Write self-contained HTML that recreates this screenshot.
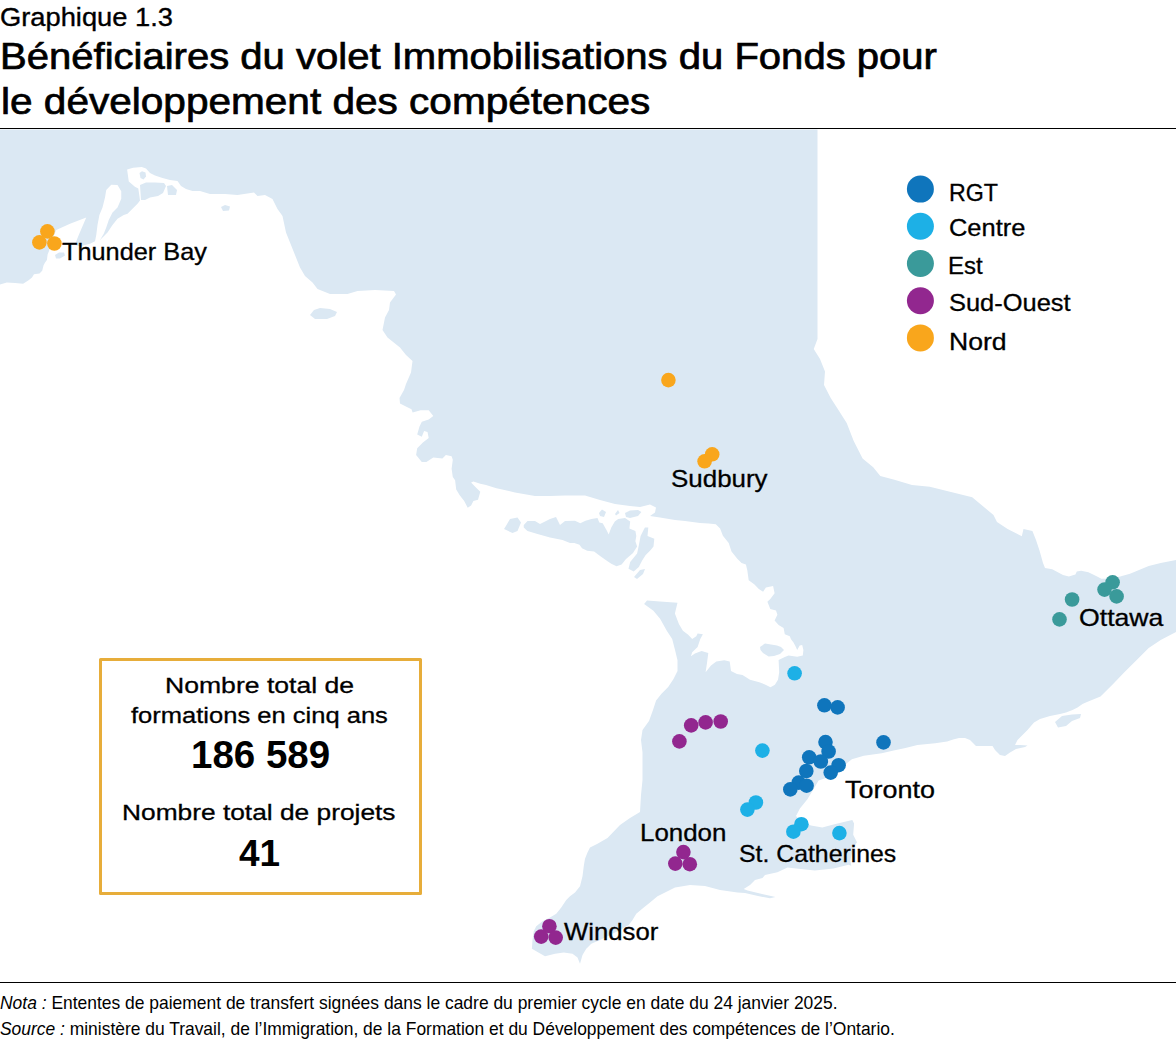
<!DOCTYPE html>
<html><head><meta charset="utf-8"><style>
html,body{margin:0;padding:0;background:#fff;}
body{width:1176px;height:1046px;position:relative;overflow:hidden;font-family:"Liberation Sans",sans-serif;}
.t{position:absolute;white-space:nowrap;transform-origin:0 0;}
</style></head><body>
<svg width="1176" height="1046" viewBox="0 0 1176 1046" style="position:absolute;left:0;top:0"><polygon points="0,129.5 817.5,129.5 817.5,339 813.75,349 820,359 825,371.5 824,385 830.7,398 837.8,409 846.7,423 853.7,441 862.6,458.4 873.2,467.3 880.3,476 894.4,479.7 912,485 929.8,486.7 951,492 972.2,497.3 993.5,515 997,522 1007.6,529 1021.8,536.3 1023.5,529 1032.4,531 1036,540 1039.5,550.4 1043,563 1045,567.9 1052.2,569.3 1063,575.1 1068.9,576.6 1075.4,574.4 1076.8,571.5 1081.1,570.8 1088.4,572.2 1095.6,575.8 1101.4,578.7 1110.5,578.5 1120.2,576.6 1130,573.7 1148.7,566 1160.7,563 1176,560 1176,632 1160.7,640 1148.7,648 1136.7,660 1124.6,672 1112.6,684.4 1100.5,696.5 1087,702 1082.5,704 1077.5,707.5 1072.5,710 1066,712.5 1060,714 1050,716 1040,719 1034,722.5 1027.5,730 1022.5,735 1017.5,740 1015,745 1020,745 1027.5,745.6 1025,747 1016,749 1010,752.5 1005,756 1000,755 995,750 992.5,746 984,746 976,746 972.5,742.5 970,740 965,738 959,737.9 953.1,739.6 947.1,741.4 935.2,743.2 917.4,745 905.5,748 893.6,750.4 881.7,753.3 863.8,755.7 851.9,759.3 847.1,762.9 841,769.4 829.8,776.8 818.6,780.6 813,790 807.4,799.3 799.9,808.6 796,816 801.7,821.7 811,825.5 822.3,827.4 833.5,824.5 844.8,821.7 852.3,819.9 854.1,823.6 853.2,834.8 857,842.3 852.3,849.8 850.4,861 851.3,865.7 848.5,864.8 833.5,868.5 814.8,870.4 796.1,868.5 787.5,867.5 777.4,872.3 765,875 762.5,877.9 755,880 750,885 743.7,889.1 747.5,890.5 760,893.5 775.5,897 770,898.3 758,896 745,893 737.5,892.5 720,890 705,886 690,885 675,887.5 660,895 657.5,896.25 650,902.5 643.75,907.5 636.25,913.75 632.5,920 628.75,925 620,930 610,935 600,940 591.25,943.75 586.25,948.75 582.5,955 580,963.75 577.5,957.5 572.5,953.75 563.75,952.5 555,953.75 545,956.25 536.25,951.25 531.9,948.75 532.5,940 533.75,931.25 536.25,926.25 542.5,921.25 550,917.5 556.25,913.75 561.25,907.5 566.25,900 570,896.25 575,892.5 580,886.25 582.5,876.25 583.75,866.25 585,858.75 587.5,852.5 590,847.5 597.5,843.75 607.5,838 620,825 630,818 640,812 641,795 642.5,780 642.5,752.5 641,740 642.5,730 649,721 653,710 656.1,700.4 661.5,693.7 668.2,687 673.5,679 677.5,671 677.5,660.3 674.9,649.6 672.2,638.9 666.8,630.8 660.1,618.8 653.4,610.8 644.1,604.1 647,600.5 660,601.5 677.5,602.7 674.9,613.4 678.9,624.1 682.9,630.8 688.2,634.8 692.2,638.9 696.3,636.2 697.6,633.5 702.9,634.2 700.3,638.9 697.6,646.9 692.2,652.2 690.9,656.3 694.9,653.6 701.6,650.9 708.3,652.9 707,662.9 705.6,672.3 711,665.6 716.3,661.6 724.3,660.3 729.7,661.6 731,671 737,674 742.5,675 750,679.7 759.3,682.2 765.5,684.7 770.5,687.2 774.9,684.7 778,679.7 779.2,672.2 778.6,660 784.8,657 788.5,655.5 797.2,656.7 802.8,655.5 803.4,649.9 802.2,644.9 799.7,645.5 797.2,649.9 795.4,646.1 793.5,642.4 791,639.3 789.8,636.2 784.8,634.3 783.6,628.1 778.6,625 774.6,620.4 777.4,614.7 776,610.4 770.3,608.9 767.4,601.8 770.3,598.9 774.6,593.2 773.1,586 765.9,587.4 763.1,591.7 758.8,588.9 754.5,584.6 748.7,580.3 747.3,570.2 745.9,564.5 741.6,563 737.3,558.7 731.5,551.6 728.7,543 722.9,535.8 720.1,528.6 715.8,524.3 708.6,523.6 700,522.9 685,521 675,520 660,517.5 650,516 655,512.5 656,507.5 650,504.5 640,507 630,506 615,504 600,500 585,495.5 565,495.5 550,496 535,496 515,492.5 500,489 496.4,488.3 486,484.9 480.3,483.7 473.4,481.5 471.1,482.6 475.7,487.2 480.3,491.8 478,499.8 473.4,501 471.1,505.5 467.7,507.8 464.2,501 459.7,495.2 456.2,489.5 455.1,480.3 452.8,476.9 451.6,468.8 452.8,459.7 451.6,456.2 445.9,455.1 442.4,458.5 433.3,457.4 426.4,462 421.8,462 416.1,455.1 417.2,448.2 422.9,442.4 428.7,437.9 427.5,432.1 424.1,431 421.8,436.7 417.2,434.4 419.5,426.4 421.8,421.8 428.7,419.5 433.3,416.1 428.7,410.3 420.6,410.3 412.6,412.6 411.5,409.2 406.9,406.9 400,403.4 399.5,398 404,390 406,384 411,372.5 412.5,361 406,355 400,347.5 387.5,337.5 382.5,330 385,317.5 389,310 390,302.5 396,294.5 394,291 375,290 357.5,291 347.5,294 330,294 317.5,289 312.5,282.5 305,276 300,267.5 295,255 290,242.5 286,232.5 282.5,216 277.5,209 272.5,199 265,195 257.5,196 254,192.5 237.5,195 225,194 210,194 200,191 192.5,191 186,189 181,186 177.5,181 170,180 162.5,178 155,175.6 150,173 146,168.6 141.8,166.9 133.1,167.7 127.1,169.5 128.8,181.5 134.9,186.7 138.3,188.4 139.2,194.4 140,200.4 137.5,203.75 132.5,208.75 127.5,213.75 123.75,215 117.5,218.75 112.5,225 107.5,232.5 102.5,237.5 100,240 103.75,233.75 106.25,227.5 108.75,220 112.5,212.5 117.5,207.5 121.25,198.75 121.25,191.25 117.5,185 111.25,184.75 106.25,190 105,197.5 102.5,207.5 99.4,215 97.5,225 96.25,235 95,241.25 90,243.75 80,246.25 75,245 76.25,241.25 78.75,235 82.5,226.25 86.25,217.5 70,223.75 56.25,230 52,240 49,251 47.6,254.5 46.9,259.9 44.9,262.7 43.5,265.4 42.2,270.8 39.5,273.5 34,274.2 32,277.6 28.6,280.3 23.1,283.7 15,283 6.8,282.4 0,284.4" fill="#dbe8f3"/><polygon points="140,185 146,182.5 155,182.5 164,183 166,186 163,193 158,196 150,197.5 145,200 141,200" fill="#dbe8f3"/><polygon points="167,186 172,185 177,190 176,195 168,195" fill="#dbe8f3"/><polygon points="139.5,173 142,171.2 145.5,172.5 146,176.5 143.5,179.5 140.5,178" fill="#dbe8f3"/><polygon points="55,255 59,252.5 64,252.5 65,255.5 60,258.5 56,258.5" fill="#dbe8f3"/><polygon points="221,207 225,205 230,206.5 229,210.5 223,211" fill="#dbe8f3"/><polygon points="310,315 314,310 320,308 330,309 337,312 335,316 327,319 315,319" fill="#dbe8f3"/><polygon points="505,527.5 510,519 517.5,517.5 521,522.5 517.5,531 512.5,533 504,529" fill="#dbe8f3"/><polygon points="523.75,525 527.5,521 535,521 540,524 550,519 556,517 560,525 565,521 575,520.7 580.3,523.2 585.5,520.7 591.5,519 597.5,518 599.3,522.4 602.7,523.2 607,531 608.7,534.4 611.3,527.5 614.8,521.5 618.2,519 625,518 630.2,521.5 629.4,528.4 635.4,531 636.3,536.1 635.4,541.3 637.1,546.5 633,553 626,559 621.6,564.5 616.5,566.3 611.3,563.7 606.1,560.2 600.1,555.9 594.1,551.6 587.2,550.8 582,548.2 579.5,544.8 574.3,543 570,543 562.5,540 550,537.5 537.5,534 527.5,531 523.75,527.5" fill="#dbe8f3"/><polygon points="644.9,527.5 648.3,527.5 647.5,536.1 654.3,538.7 653.5,546.5 650,550.8 645.7,555.1 642.3,560.2 638.8,567.1 633.7,571.4 628.5,568.8 630.2,562 637.1,553.4 638.8,545.6 640.6,536.1 643.1,531" fill="#dbe8f3"/><polygon points="634,577 640,570 645,569 643,574 637,579" fill="#dbe8f3"/><polygon points="599,513 602,509.5 606,512 604,517 600,516" fill="#dbe8f3"/><polygon points="615,514 618,510 619.5,513 616,515.5" fill="#dbe8f3"/><polygon points="625,513 630,510.5 638,510 641.4,512 638,516 630,518 626,517" fill="#dbe8f3"/><polygon points="760,647 765,643.5 771,644.5 777,645.5 781,647 784,650 780,654 774,656 768.6,656.5 763,653 760.5,650" fill="#dbe8f3"/><polygon points="1055,722 1062,716 1072,714.5 1081,714 1080,718 1072,721 1066,726 1058,727.5" fill="#dbe8f3"/><circle cx="47.4" cy="231.4" r="7.3" fill="#f9a61c"/><circle cx="39.4" cy="242.4" r="7.3" fill="#f9a61c"/><circle cx="54.4" cy="243.5" r="7.3" fill="#f9a61c"/><circle cx="668.4" cy="380.1" r="7.3" fill="#f9a61c"/><circle cx="712.2" cy="454.3" r="7.3" fill="#f9a61c"/><circle cx="704.6" cy="461.3" r="7.3" fill="#f9a61c"/><circle cx="679.4" cy="741.4" r="7.3" fill="#92278f"/><circle cx="691.2" cy="725.4" r="7.3" fill="#92278f"/><circle cx="705.6" cy="722.4" r="7.3" fill="#92278f"/><circle cx="720.7" cy="721.5" r="7.3" fill="#92278f"/><circle cx="683.4" cy="852.1" r="7.3" fill="#92278f"/><circle cx="675.3" cy="863.6" r="7.3" fill="#92278f"/><circle cx="689.8" cy="864.2" r="7.3" fill="#92278f"/><circle cx="549.4" cy="926.2" r="7.3" fill="#92278f"/><circle cx="541.2" cy="936.6" r="7.3" fill="#92278f"/><circle cx="555.7" cy="937.6" r="7.3" fill="#92278f"/><circle cx="794.6" cy="673.3" r="7.3" fill="#1db0e6"/><circle cx="762.4" cy="750.6" r="7.3" fill="#1db0e6"/><circle cx="755.9" cy="802.5" r="7.3" fill="#1db0e6"/><circle cx="747.4" cy="809.6" r="7.3" fill="#1db0e6"/><circle cx="801.4" cy="824.2" r="7.3" fill="#1db0e6"/><circle cx="793.4" cy="831.7" r="7.3" fill="#1db0e6"/><circle cx="839.4" cy="833.1" r="7.3" fill="#1db0e6"/><circle cx="824.4" cy="705.3" r="7.3" fill="#0f75bc"/><circle cx="837.6" cy="707.4" r="7.3" fill="#0f75bc"/><circle cx="883.5" cy="742.4" r="7.3" fill="#0f75bc"/><circle cx="825.5" cy="742.1" r="7.3" fill="#0f75bc"/><circle cx="828.6" cy="751.5" r="7.3" fill="#0f75bc"/><circle cx="809.2" cy="757.3" r="7.3" fill="#0f75bc"/><circle cx="820.8" cy="761.5" r="7.3" fill="#0f75bc"/><circle cx="838.6" cy="765.2" r="7.3" fill="#0f75bc"/><circle cx="830.7" cy="772.6" r="7.3" fill="#0f75bc"/><circle cx="806.3" cy="771.0" r="7.3" fill="#0f75bc"/><circle cx="798.7" cy="782.6" r="7.3" fill="#0f75bc"/><circle cx="806.6" cy="785.7" r="7.3" fill="#0f75bc"/><circle cx="790.3" cy="789.4" r="7.3" fill="#0f75bc"/><circle cx="1059.5" cy="619.4" r="7.3" fill="#3a9a9a"/><circle cx="1072.1" cy="599.5" r="7.3" fill="#3a9a9a"/><circle cx="1112.6" cy="582.3" r="7.3" fill="#3a9a9a"/><circle cx="1104.5" cy="589.6" r="7.3" fill="#3a9a9a"/><circle cx="1116.6" cy="596.4" r="7.3" fill="#3a9a9a"/><circle cx="920.4" cy="189.1" r="13.5" fill="#0f75bc"/><circle cx="920.4" cy="226.3" r="13.5" fill="#1db0e6"/><circle cx="920.4" cy="263.5" r="13.5" fill="#3a9a9a"/><circle cx="920.4" cy="300.7" r="13.5" fill="#92278f"/><circle cx="920.4" cy="337.9" r="13.5" fill="#f9a61c"/></svg><div class="t" style="left:0.12px;top:5.18px;font-size:25.3px;line-height:25.3px;font-weight:400;transform:scaleX(1.0791);-webkit-text-stroke:0.35px #000;">Graphique 1.3</div><div class="t" style="left:-0.32px;top:38.76px;font-size:36.2px;line-height:36.2px;font-weight:400;transform:scaleX(1.1064);-webkit-text-stroke:0.7px #000;">Bénéficiaires du volet Immobilisations du Fonds pour</div><div class="t" style="left:0.76px;top:83.56px;font-size:36.2px;line-height:36.2px;font-weight:400;transform:scaleX(1.1207);-webkit-text-stroke:0.7px #000;">le développement des compétences</div><div class="t" style="left:62.33px;top:241.42px;font-size:23.6px;line-height:23.6px;font-weight:400;transform:scaleX(1.0724);-webkit-text-stroke:0.3px #000;">Thunder Bay</div><div class="t" style="left:671.3px;top:468.42px;font-size:23.6px;line-height:23.6px;font-weight:400;transform:scaleX(1.0989);-webkit-text-stroke:0.3px #000;">Sudbury</div><div class="t" style="left:1079.47px;top:607.42px;font-size:23.6px;line-height:23.6px;font-weight:400;transform:scaleX(1.1297);-webkit-text-stroke:0.3px #000;">Ottawa</div><div class="t" style="left:844.86px;top:778.62px;font-size:23.6px;line-height:23.6px;font-weight:400;transform:scaleX(1.1429);-webkit-text-stroke:0.3px #000;">Toronto</div><div class="t" style="left:639.51px;top:821.52px;font-size:23.6px;line-height:23.6px;font-weight:400;transform:scaleX(1.0973);-webkit-text-stroke:0.3px #000;">London</div><div class="t" style="left:739.35px;top:843.42px;font-size:23.6px;line-height:23.6px;font-weight:400;transform:scaleX(1.052);-webkit-text-stroke:0.3px #000;">St. Catherines</div><div class="t" style="left:564.4px;top:921.42px;font-size:23.6px;line-height:23.6px;font-weight:400;transform:scaleX(1.0895);-webkit-text-stroke:0.3px #000;">Windsor</div><div class="t" style="left:948.53px;top:181.72px;font-size:23.6px;line-height:23.6px;font-weight:400;transform:scaleX(0.983);-webkit-text-stroke:0.3px #000;">RGT</div><div class="t" style="left:948.92px;top:217.12px;font-size:23.6px;line-height:23.6px;font-weight:400;transform:scaleX(1.0783);-webkit-text-stroke:0.3px #000;">Centre</div><div class="t" style="left:948.47px;top:254.72px;font-size:23.6px;line-height:23.6px;font-weight:400;transform:scaleX(1.0156);-webkit-text-stroke:0.3px #000;">Est</div><div class="t" style="left:948.92px;top:291.52px;font-size:23.6px;line-height:23.6px;font-weight:400;transform:scaleX(1.0777);-webkit-text-stroke:0.3px #000;">Sud-Ouest</div><div class="t" style="left:949.05px;top:330.62px;font-size:23.6px;line-height:23.6px;font-weight:400;transform:scaleX(1.1271);-webkit-text-stroke:0.3px #000;">Nord</div><div style="position:absolute;left:99px;top:658px;width:317px;height:231px;border:3px solid #e7ad3a;border-radius:1.5px;background:#fff"></div><div class="t" style="left:165.16px;top:675.45px;font-size:21.8px;line-height:21.8px;font-weight:400;transform:scaleX(1.2191);-webkit-text-stroke:0.3px #000;">Nombre total de</div><div class="t" style="left:131.4px;top:704.75px;font-size:21.8px;line-height:21.8px;font-weight:400;transform:scaleX(1.1712);-webkit-text-stroke:0.3px #000;">formations en cinq ans</div><div class="t" style="left:122.39px;top:802.45px;font-size:21.8px;line-height:21.8px;font-weight:400;transform:scaleX(1.2071);-webkit-text-stroke:0.3px #000;">Nombre total de projets</div><div class="t" style="left:190.57px;top:736.03px;font-size:38px;line-height:38px;font-weight:700;transform:scaleX(1.0127);">186 589</div><div class="t" style="left:239.11px;top:834.64px;font-size:37.4px;line-height:37.4px;font-weight:700;transform:scaleX(0.9875);">41</div><div style="position:absolute;left:0;top:981.5px;width:1176px;height:1px;background:#000"></div><div style="position:absolute;left:0;top:127.5px;width:1176px;height:1px;background:#000"></div><div class="t" style="left:0.48px;top:993.32px;font-size:19px;line-height:19px;font-weight:400;transform:scaleX(0.9178);"><i>Nota :</i> Ententes de paiement de transfert signées dans le cadre du premier cycle en date du 24 janvier 2025.</div><div class="t" style="left:0.48px;top:1018.52px;font-size:19px;line-height:19px;font-weight:400;transform:scaleX(0.917);"><i>Source :</i> ministère du Travail, de l’Immigration, de la Formation et du Développement des compétences de l’Ontario.</div>

</body></html>
